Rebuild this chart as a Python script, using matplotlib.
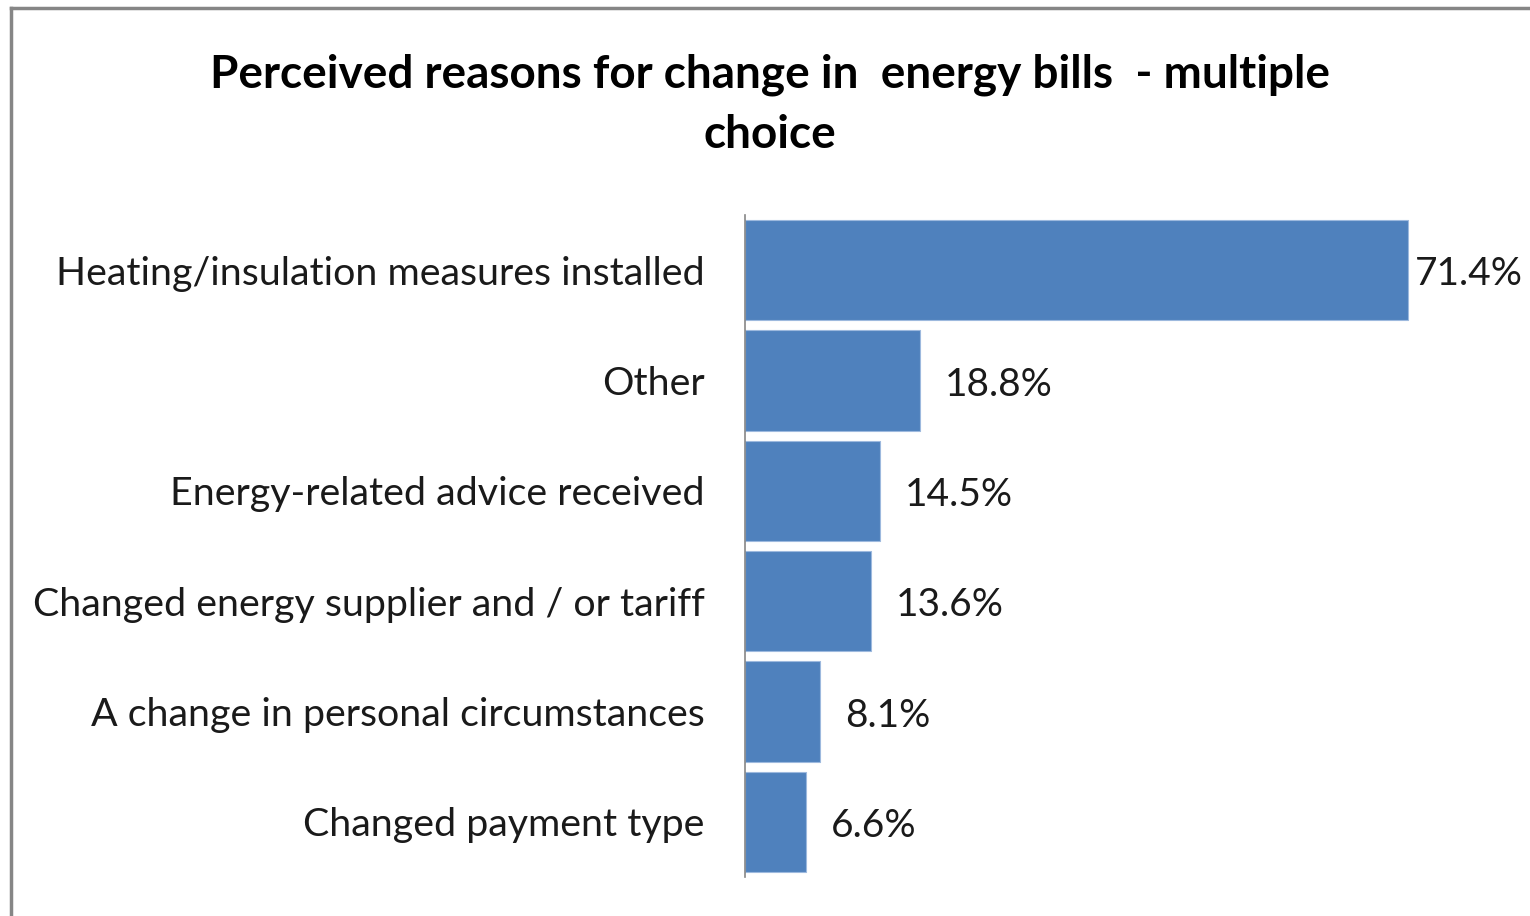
import matplotlib
matplotlib.use('Agg')
import matplotlib.pyplot as plt
from matplotlib.lines import Line2D

categories = [
    'Heating/insulation measures installed',
    'Other',
    'Energy-related advice received',
    'Changed energy supplier and / or tariff',
    'A change in personal circumstances',
    'Changed payment type',
]
shares = [71.4, 18.8, 14.5, 13.6, 8.1, 6.6]

plt.rcParams['font.family'] = ['Lato', 'DejaVu Sans']

fig = plt.figure(figsize=(15.3, 9.16), dpi=100)
ax = fig.add_axes([745 / 1530, 39 / 916, 780 / 1530, 662 / 916])

y = list(range(len(categories)))
ax.barh(y, shares, height=0.91, color='#4F81BD', edgecolor='#9DB9DE', linewidth=0.8)
ax.set_ylim(len(categories) - 0.5, -0.5)
ax.set_xlim(0, 84)

ax.set_yticks(y)
ax.set_yticklabels(categories, fontsize=28.4, color='#1a1a1a')
ax.tick_params(axis='y', length=0, pad=29)
ax.set_xticks([])
for side in ['top', 'right', 'bottom']:
    ax.spines[side].set_visible(False)
ax.spines['left'].set_color('#868686')
ax.spines['left'].set_linewidth(1.2)

for i, v in enumerate(shares):
    # the longest bar's label sits tight against the bar end
    off = 5 if v > 60 else 18
    ax.annotate(f'{v}%', (v, i), xytext=(off, -3), textcoords='offset points',
                ha='left', va='center', fontsize=28, color='#1a1a1a')

fig.text(770 / 1530, 1 - 105 / 916, 'Perceived reasons for change in  energy bills  - multiple\nchoice',
         ha='center', va='center', fontsize=33, fontweight='bold', linespacing=1.52)

# chart frame (left and top edges)
fig.add_artist(Line2D([11 / 1530, 11 / 1530], [0, 1 - 8 / 916], color='#868686', lw=2.5))
fig.add_artist(Line2D([11 / 1530, 1], [1 - 8 / 916, 1 - 8 / 916], color='#868686', lw=2.5))

plt.savefig('out.png', dpi=100)
